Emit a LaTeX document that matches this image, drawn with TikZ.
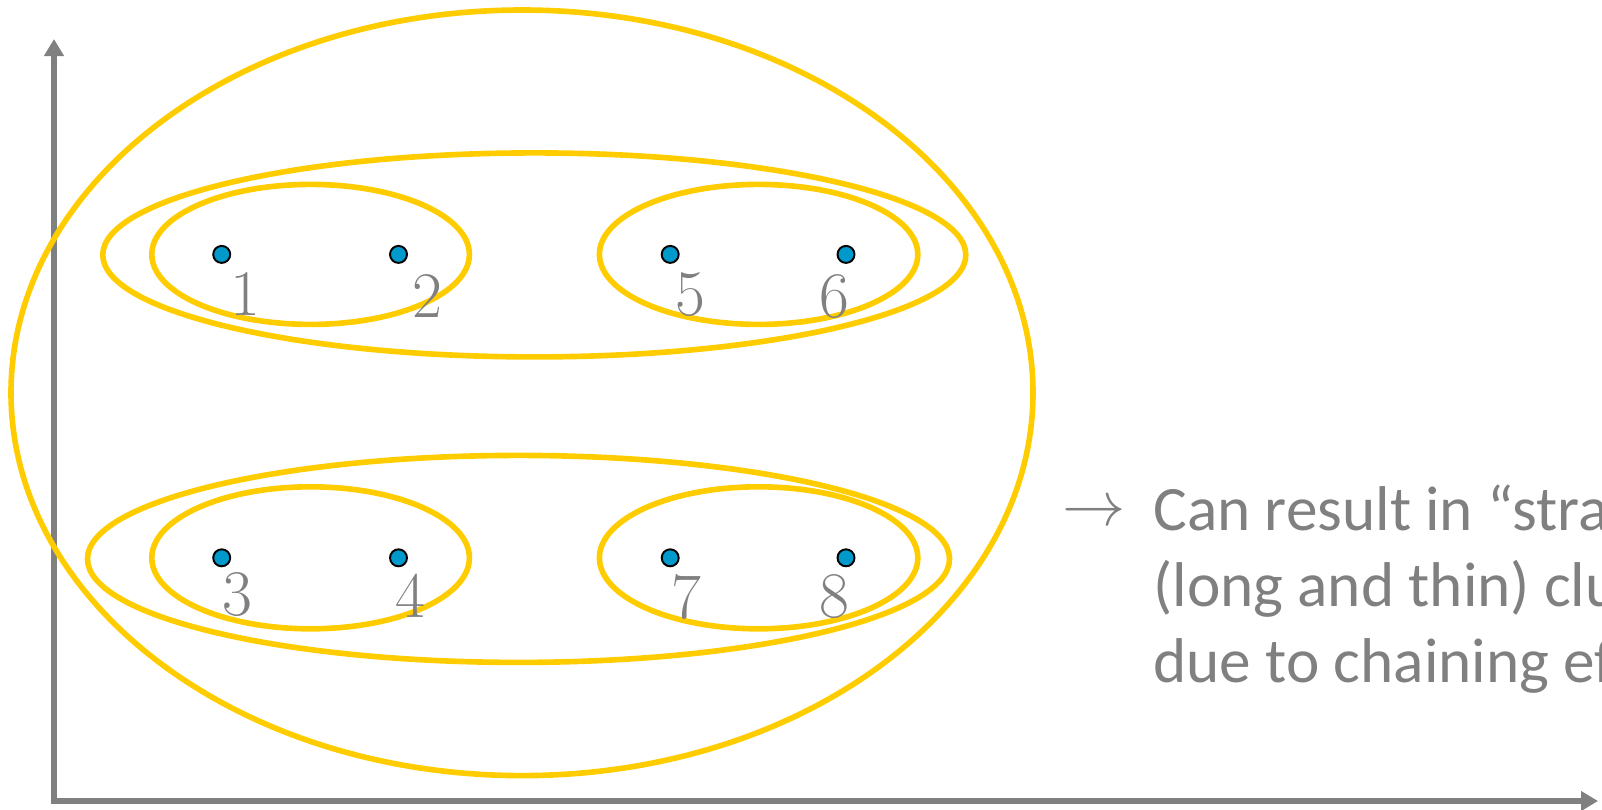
\RequirePackage{fix-cm}
\documentclass[tikz,border=0pt]{standalone}
\usepackage{fontspec}
\newfontfamily\notefont{Carlito}
\usepackage{tikz}
\usetikzlibrary{arrows.meta}
\definecolor{clgray}{RGB}{128,128,128}
\definecolor{clyellow}{RGB}{255,204,0}
\definecolor{clblue}{RGB}{0,153,204}

\begin{document}
\begin{tikzpicture}[
  x=0.02cm,y=-0.02cm,
  axis/.style={line width=3.4pt,clgray,-{Triangle[length=0.34cm,width=0.38cm]}},
  cluster/.style={clyellow,line width=3.2pt},
  dot/.style={circle,draw=black,fill=clblue,line width=1.1pt,minimum size=0.34cm,inner sep=0pt},
  num/.style={font=\fontsize{37}{37}\selectfont\rmfamily,text=clgray,inner sep=0pt},
  note/.style={font=\fontsize{36}{43}\selectfont\notefont,text=clgray,align=left,inner sep=0pt}
]
  \useasboundingbox (0,0) rectangle (1602,809);
  \clip (0,0) rectangle (1602,809);
  % Axes
  \coordinate (origin) at (54,801);
  \coordinate (ytip) at (54,39);
  \coordinate (xtip) at (1598,801);
  \draw[axis] (54,804) -- (ytip);
  \draw[axis] (51,801) -- (xtip);
  % Clusters
  \draw[cluster] (522,392.8) ellipse [x radius=511,y radius=382.8];
  \draw[cluster] (534.3,254.9) ellipse [x radius=431.5,y radius=102];
  \draw[cluster] (518.5,558.9) ellipse [x radius=431,y radius=103.5];
  \draw[cluster] (310.6,254.4) ellipse [x radius=158.8,y radius=70];
  \draw[cluster] (758.6,254.4) ellipse [x radius=159.2,y radius=70];
  \draw[cluster] (310.6,557.8) ellipse [x radius=158.8,y radius=71];
  \draw[cluster] (758.6,557.8) ellipse [x radius=159.2,y radius=71];
  % Points
  \node[dot] (p1) at (221.7,254.4) {};
  \node[dot] (p2) at (398.5,254.4) {};
  \node[dot] (p5) at (670.2,254.4) {};
  \node[dot] (p6) at (846,254.4) {};
  \node[dot] (p3) at (221.7,557.8) {};
  \node[dot] (p4) at (398.5,557.8) {};
  \node[dot] (p7) at (670.2,557.8) {};
  \node[dot] (p8) at (846,557.8) {};
  % Point labels
  \node[num] (n1) at (245.2,294.5) {1};
  \node[num] (n2) at (427,296.5) {2};
  \node[num] (n5) at (690.7,294.5) {5};
  \node[num] (n6) at (834.7,296.5) {6};
  \node[num] (n3) at (237,595) {3};
  \node[num] (n4) at (410.7,596) {4};
  \node[num] (n7) at (686.6,597) {7};
  \node[num] (n8) at (834.7,597) {8};
  % Remark
  \node[note,anchor=center] (arr) at (1094,514) {$\rightarrow$};
  \node[note,anchor=base west] (remark) at (1153,682)
    {Can result in “straggly”\\(long and thin) clusters\\due to chaining effect.};
\end{tikzpicture}
\end{document}
